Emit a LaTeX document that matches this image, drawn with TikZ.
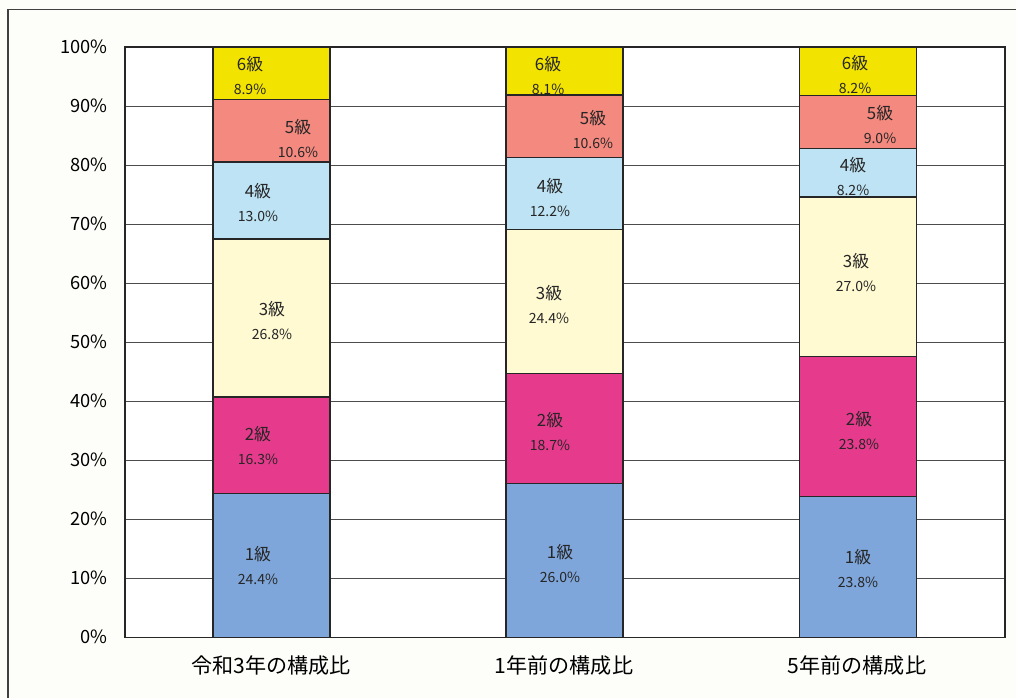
\documentclass[tikz,border=0pt]{standalone}
\usepackage{fontspec}
\setmainfont{Noto Sans CJK JP}
\usepackage{tikz}
\usetikzlibrary{calc}
\definecolor{paper}{HTML}{FDFDF9}
\definecolor{gradeone}{HTML}{7FA6DA}
\definecolor{gradetwo}{HTML}{E63B8C}
\definecolor{gradethree}{HTML}{FFFAD2}
\definecolor{gradefour}{HTML}{BDE3F4}
\definecolor{gradefive}{HTML}{F4897F}
\definecolor{gradesix}{HTML}{F3E300}
\tikzstyle{segbox}=[draw=black!85,line width=1pt]
\tikzstyle{gridline}=[draw=black!70,line width=0.7pt]
\tikzstyle{ticklabel}=[anchor=east,inner sep=0pt,font=\fontsize{13}{15}\selectfont]
\tikzstyle{catlabel}=[inner sep=0pt,font=\fontsize{15}{18}\selectfont]
\tikzstyle{gradetext}=[align=center,inner sep=0pt,text=black!85,
                       font=\fontsize{12}{17}\selectfont]
\newcommand\gradelabel[2]{#1\\{\fontsize{10}{17}\selectfont #2}}
\newcommand\stackseg[4]{\draw[segbox,fill=#4] ($(#1,#2)+(-58.5,0)$) rectangle ($(#1,#3)+(58.5,0)$);}

\begin{document}
\begin{tikzpicture}[x=0.025cm,y=0.1475cm]
    \useasboundingbox[fill=paper] (0,-10.34) rectangle (1016,107.97);
    % frame of the page
    \draw[black!75,line width=0.8pt] (8,-10.34) -- (8,106.3) -- (1016,106.3);

    % plot area and grid
    \fill[white] (125,0) rectangle (1005,100);
    \foreach \p in {10,20,...,90}{
        \draw[gridline] (125,\p) -- (1005,\p);
    }
    \draw[black!85,line width=1pt] (125,0) rectangle (1005,100);
    \foreach \p in {0,10,...,100}{
        \node[ticklabel] (tick\p) at (108,\p) {\p\%};
    }

    % 令和3年
    \stackseg{271.5}{0}{24.4}{gradeone}
    \stackseg{271.5}{24.4}{40.7}{gradetwo}
    \stackseg{271.5}{40.7}{67.5}{gradethree}
    \stackseg{271.5}{67.5}{80.5}{gradefour}
    \stackseg{271.5}{80.5}{91.1}{gradefive}
    \stackseg{271.5}{91.1}{100}{gradesix}
    \node[gradetext] (ra) at (258,12.2) {\gradelabel{1級}{24.4\%}};
    \node[gradetext] (rb) at (258,32.5) {\gradelabel{2級}{16.3\%}};
    \node[gradetext] (rc) at (272,53.7) {\gradelabel{3級}{26.8\%}};
    \node[gradetext] (rd) at (258,73.6) {\gradelabel{4級}{13.0\%}};
    \node[gradetext] (re) at (298,84.5) {\gradelabel{5級}{10.6\%}};
    \node[gradetext] (rf) at (250,95.1) {\gradelabel{6級}{8.9\%}};

    % 1年前
    \stackseg{564.5}{0}{26.0}{gradeone}
    \stackseg{564.5}{26.0}{44.7}{gradetwo}
    \stackseg{564.5}{44.7}{69.1}{gradethree}
    \stackseg{564.5}{69.1}{81.3}{gradefour}
    \stackseg{564.5}{81.3}{91.9}{gradefive}
    \stackseg{564.5}{91.9}{100}{gradesix}
    \node[gradetext] (oa) at (560,12.5) {\gradelabel{1級}{26.0\%}};
    \node[gradetext] (ob) at (550,34.8) {\gradelabel{2級}{18.7\%}};
    \node[gradetext] (oc) at (549,56.4) {\gradelabel{3級}{24.4\%}};
    \node[gradetext] (od) at (550,74.5) {\gradelabel{4級}{12.2\%}};
    \node[gradetext] (oe) at (593,86.0) {\gradelabel{5級}{10.6\%}};
    \node[gradetext] (of) at (548,95.2) {\gradelabel{6級}{8.1\%}};

    % 5年前
    \stackseg{858}{0}{23.8}{gradeone}
    \stackseg{858}{23.8}{47.6}{gradetwo}
    \stackseg{858}{47.6}{74.6}{gradethree}
    \stackseg{858}{74.6}{82.8}{gradefour}
    \stackseg{858}{82.8}{91.8}{gradefive}
    \stackseg{858}{91.8}{100}{gradesix}
    \node[gradetext] (fa) at (858,11.6) {\gradelabel{1級}{23.8\%}};
    \node[gradetext] (fb) at (859,35.1) {\gradelabel{2級}{23.8\%}};
    \node[gradetext] (fc) at (856,61.8) {\gradelabel{3級}{27.0\%}};
    \node[gradetext] (fd) at (853,78.1) {\gradelabel{4級}{8.2\%}};
    \node[gradetext] (fe) at (880,86.9) {\gradelabel{5級}{9.0\%}};
    \node[gradetext] (ff) at (855,95.3) {\gradelabel{6級}{8.2\%}};

    % category labels
    \node[catlabel] (catnow) at (271,-4.75) {令和3年の構成比};
    \node[catlabel] (catone) at (564,-4.75) {1年前の構成比};
    \node[catlabel] (catfive) at (857,-4.75) {5年前の構成比};
\end{tikzpicture}
\end{document}
